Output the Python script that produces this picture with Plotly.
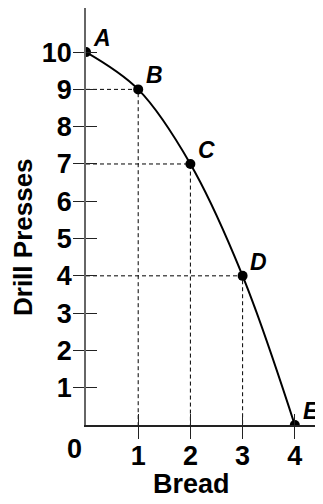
import plotly.graph_objects as go

# Data
point_labels = ["A", "B", "C", "D", "E"]
bread = [0, 1, 2, 3, 4]
drill_presses = [10, 9, 7, 4, 0]
x_ticks = [1, 2, 3, 4]
y_ticks = [1, 2, 3, 4, 5, 6, 7, 8, 9, 10]
x_title = "Bread"
y_title = "Drill Presses"

FONT = "Liberation Sans, Arial, sans-serif"
INK = "#000000"

# page body adds an 8px margin; figure is sized to fit the window
W_FIG, H_FIG = 315, 496
L, R, T, B = 78, 0, 0, 79
PW, PH = W_FIG - L - R, H_FIG - T - B
PX_X, PX_Y = 52.2, 37.29


def paper_x(ref_px):
    return (ref_px - 8 - L) / PW


def paper_y(ref_py):
    return (T + PH - (ref_py - 8)) / PH


fig = go.Figure()

# dashed guide lines for interior points
for bx, dy in zip(bread, drill_presses):
    if bx > 0 and dy > 0:
        fig.add_trace(go.Scatter(
            x=[0, bx, bx], y=[dy, dy, 0], mode="lines",
            line=dict(color=INK, width=1, dash="4px,3px"),
            hoverinfo="skip", showlegend=False))

# PPF curve
fig.add_trace(go.Scatter(
    x=bread, y=drill_presses, mode="lines",
    line=dict(color=INK, width=2, shape="spline", smoothing=1.0),
    hoverinfo="skip", showlegend=False))

# points
fig.add_trace(go.Scatter(
    x=bread, y=drill_presses, mode="markers",
    marker=dict(color=INK, size=10),
    showlegend=False))

# invisible trace for overlay axes (inside ticks)
fig.add_trace(go.Scatter(x=[0], y=[0], xaxis="x2", yaxis="y2", mode="markers",
                         marker=dict(opacity=0), hoverinfo="skip", showlegend=False))

# point labels
for lab, bx, dy in zip(point_labels, bread, drill_presses):
    fig.add_annotation(x=bx, y=dy, text=f"<b><i>{lab}</i></b>", showarrow=False,
                       xshift=16, yshift=14,
                       font=dict(family=FONT, size=23, color=INK))

xr = [0, PW / PX_X]
yr = [0, PH / PX_Y]

fig.update_layout(
    width=W_FIG, height=H_FIG,
    margin=dict(l=L, r=R, t=T, b=B, pad=0),
    plot_bgcolor="white", paper_bgcolor="white",
    xaxis=dict(range=xr, showgrid=False, zeroline=False, automargin=False,
               showline=True, linecolor="#222", linewidth=1.5,
               tickmode="array", tickvals=x_ticks, ticktext=[str(v) for v in x_ticks],
               ticks="outside", ticklen=12, tickwidth=1, tickcolor="#222",
               ticklabelstandoff=-6,
               tickfont=dict(family=FONT, size=27, color=INK, weight="bold")),
    yaxis=dict(range=yr, showgrid=False, zeroline=False, automargin=False,
               showline=True, linecolor="#666", linewidth=1.5,
               tickmode="array", tickvals=y_ticks, ticktext=[str(v) for v in y_ticks],
               ticks="outside", ticklen=11, tickwidth=1, tickcolor="#222",
               ticklabelstandoff=-4,
               tickfont=dict(family=FONT, size=27, color=INK, weight="bold")),
    xaxis2=dict(range=xr, overlaying="x", anchor="y", showgrid=False, zeroline=False,
                showline=False, tickmode="array", tickvals=x_ticks, automargin=False,
                ticks="inside", ticklen=11, tickwidth=1, tickcolor="#222",
                showticklabels=False),
    yaxis2=dict(range=yr, overlaying="y", anchor="x", showgrid=False, zeroline=False,
                showline=False, tickmode="array", tickvals=y_ticks, automargin=False,
                ticks="inside", ticklen=11, tickwidth=1, tickcolor="#222",
                showticklabels=False),
)

# origin label
fig.add_annotation(x=0, y=0, text="<b>0</b>", showarrow=False,
                   xshift=-12, yshift=-24,
                   font=dict(family=FONT, size=27, color=INK))

# axis titles
fig.add_annotation(xref="paper", yref="paper", x=paper_x(191), y=paper_y(484),
                   text=f"<b>{x_title}</b>", showarrow=False,
                   xanchor="center", yanchor="middle",
                   font=dict(family=FONT, size=27, color=INK))
fig.add_annotation(xref="paper", yref="paper", x=paper_x(23), y=paper_y(237),
                   text=f"<b>{y_title}</b>", showarrow=False, textangle=-90,
                   xanchor="center", yanchor="middle",
                   font=dict(family=FONT, size=26, color=INK))

fig.write_html("out.html")
